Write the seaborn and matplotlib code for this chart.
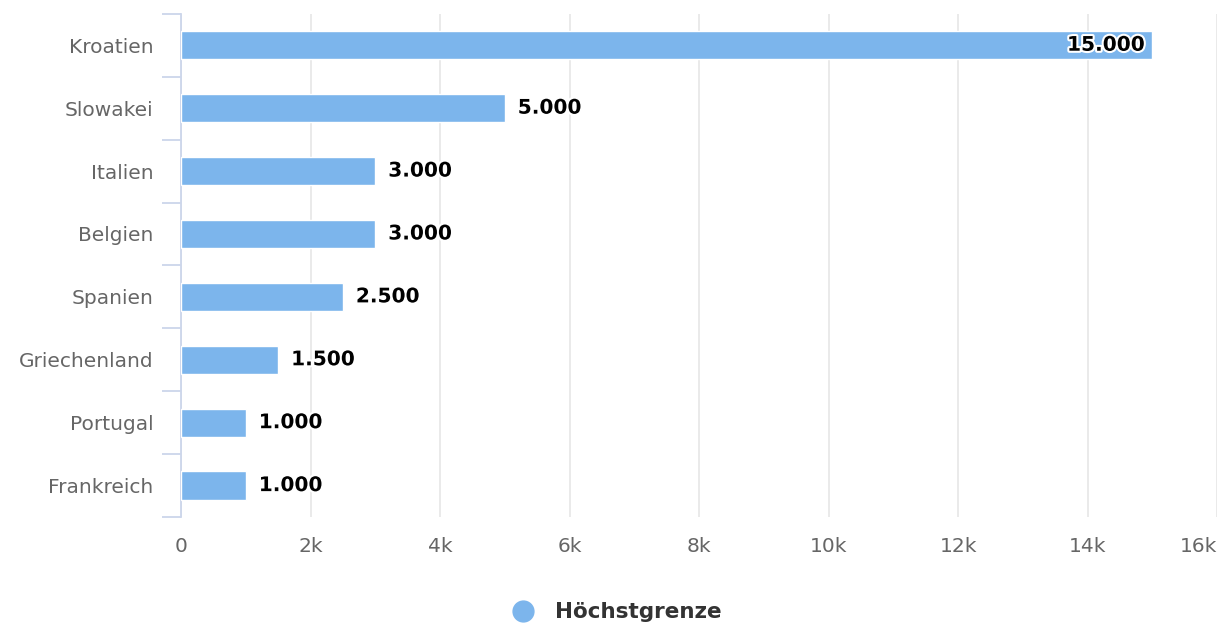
import numpy as np
import pandas as pd
import matplotlib
matplotlib.use('Agg')
import matplotlib.pyplot as plt
import matplotlib.patheffects as pe
from matplotlib.lines import Line2D
from matplotlib.ticker import FixedLocator, FuncFormatter
import seaborn as sns

countries = ['Kroatien', 'Slowakei', 'Italien', 'Belgien', 'Spanien',
             'Griechenland', 'Portugal', 'Frankreich']
limits = [15000, 5000, 3000, 3000, 2500, 1500, 1000, 1000]
series_name = 'Höchstgrenze'
x_ticks = [0, 2000, 4000, 6000, 8000, 10000, 12000, 14000, 16000]

sns.set_theme(style='white')
plt.rcParams['font.family'] = ['DejaVu Sans']

df = pd.DataFrame({'Land': countries, 'Wert': limits})

fig = plt.figure(figsize=(12.2, 6.26), dpi=100)
ax = fig.add_axes([0.1484, 0.174, 0.8492, 0.804])

sns.barplot(data=df, y='Land', x='Wert', orient='h', color='#7cb5ec',
            saturation=1, width=0.45, ax=ax, zorder=3)

ax.set_xlim(0, 16000)
ax.set_ylim(len(countries) - 0.5, -0.5)
ax.xaxis.set_major_locator(FixedLocator(x_ticks))
ax.xaxis.set_major_formatter(FuncFormatter(lambda v, p: '0' if v == 0 else f'{int(v/1000)}k'))
ax.grid(axis='x', color='#e6e6e6', linewidth=1.2, zorder=0)
ax.grid(axis='y', visible=False)

for s in ['top', 'right', 'bottom']:
    ax.spines[s].set_visible(False)
ax.spines['left'].set_color('#ccd6eb')
ax.spines['left'].set_linewidth(1.3)

ax.set_xlabel('')
ax.set_ylabel('')
ax.tick_params(axis='x', length=0, pad=14, labelsize=14.5, labelcolor='#666666')
ax.tick_params(axis='y', which='major', left=False, length=0, pad=20,
               labelsize=14.5, labelcolor='#666666')
ax.yaxis.set_minor_locator(FixedLocator(np.arange(-0.5, len(countries), 1.0)))
ax.tick_params(axis='y', which='minor', left=True, length=14, width=1.3, color='#ccd6eb')

# last x label kept inside the figure, as in the original
ax.get_xticklabels()[-1].set_horizontalalignment('right')
ax.get_xticklabels()[-1].set_x(16000)

outline = [pe.withStroke(linewidth=3, foreground='white')]
for i, v in enumerate(limits):
    txt = f'{v:,}'.replace(',', '.')
    if v > 14000:
        ax.text(v - 120, i, txt, ha='right', va='center', fontsize=14.5,
                fontweight='bold', color='black', path_effects=outline, zorder=5)
    else:
        ax.text(v + 200, i, txt, ha='left', va='center', fontsize=14.5,
                fontweight='bold', color='black', path_effects=outline, zorder=5)

handle = Line2D([], [], marker='o', linestyle='', markersize=15,
                markerfacecolor='#7cb5ec', markeredgecolor='#7cb5ec')
fig.legend([handle], [series_name], loc='center', bbox_to_anchor=(0.501, 0.022),
           frameon=False, prop={'size': 15.5, 'weight': 'bold'},
           labelcolor='#333333', handletextpad=0.5)

fig.savefig('out.png', dpi=100)
